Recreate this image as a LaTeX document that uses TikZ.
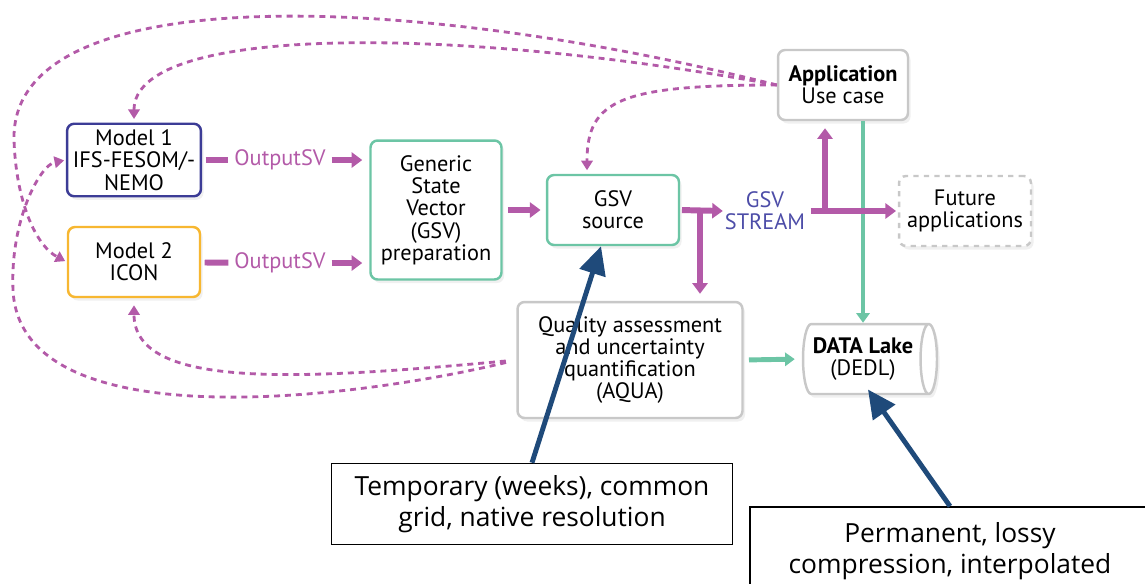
\documentclass[tikz,border=0pt]{standalone}
\usepackage{fontspec}
\setmainfont{PT Sans}
\newfontfamily\notefont{Open Sans}
\usetikzlibrary{arrows.meta,positioning,shapes,shapes.geometric,calc,shadows}
\definecolor{dtpurple}{HTML}{B35AA8}
\definecolor{dtgreen}{HTML}{6CC5A5}
\definecolor{dtblue}{HTML}{3C3C96}
\definecolor{dtorange}{HTML}{F7B731}
\definecolor{dtgrey}{HTML}{C8C8C8}
\definecolor{dtnavy}{HTML}{1F4A7A}
\definecolor{dtstream}{HTML}{4D4DA8}
\begin{document}
\begin{tikzpicture}[x=0.02cm,y=-0.02cm,
      every node/.style={font=\fontsize{12.7}{12.7}\selectfont},
      box/.style={draw,rounded corners=4pt,line width=1.4pt,fill=white,align=center,minimum width=2.64cm,minimum height=1.4cm,
        drop shadow={opacity=0.12,shadow xshift=1.5pt,shadow yshift=-2pt}},
      lake/.style={cylinder,shape border rotate=0,aspect=0.3,draw=dtgrey,line width=1.4pt,fill=white,align=center,minimum width=1.4cm,minimum height=2.68cm,
        drop shadow={opacity=0.12,shadow xshift=1.5pt,shadow yshift=-2pt}},
      flow/.style={line width=3.4pt,dtpurple,-{Triangle[length=6pt,width=8.5pt]}},
      feed/.style={line width=2.8pt,dtgreen,-{Triangle[length=5.5pt,width=7.5pt]}},
      loop/.style={line width=1.6pt,dtpurple,dash pattern=on 3.4pt off 2.8pt,-{Triangle[length=5.5pt,width=6.5pt]}},
      note/.style={draw,line width=0.9pt,fill=white,align=center,font=\notefont\fontsize{15}{17.5}\selectfont,minimum width=8.02cm,minimum height=1.62cm},
      ptr/.style={line width=2.8pt,dtnavy,-{Triangle[length=16pt,width=15pt]}}]
    \useasboundingbox (0,0) rectangle (1145,583);
    % Boxes
    \node[box,draw=dtblue] (m1) at (134,160) {Model 1\\IFS-FESOM/-\\NEMO};
    \node[box,draw=dtorange] (m2) at (134,262) {Model 2\\ICON};
    \node[box,draw=dtgreen,minimum width=2.62cm,minimum height=2.78cm] (gsv) at (436,210) {Generic\\State\\Vector\\(GSV)\\preparation};
    \node[box,draw=dtgreen] (src) at (613,210) {GSV\\source};
    \node[box,draw=dtgrey,minimum width=2.6cm] (app) at (843,85) {\textbf{Application}\\Use case};
    \node[box,draw=dtgrey,dashed] (fut) at (965,211) {Future\\applications};
    \node[box,draw=dtgrey,minimum width=4.5cm,minimum height=2.32cm] (aqua) at (630,360) {Quality assessment\\and uncertainty\\quantification\\(AQUA)};
    \node[lake] (lake) at (863,359) {\textbf{DATA Lake}\\(DEDL)};
    % Labels on the flow
    \node[text=dtpurple] (out1) at (280,160) {OutputSV};
    \node[text=dtpurple] (out2) at (280,263) {OutputSV};
    \node[text=dtstream,align=center,inner sep=1pt] (strm) at (765,211) {GSV\\STREAM};
    \coordinate (split) at (700,210);
    \coordinate (fork) at (825,210);
    % Data flow
    \draw[feed] (app.south -| lake.north) -- (lake.north);
    \draw[feed,shorten <=3pt,shorten >=4pt] (aqua.east) -- (lake.west);
    \foreach \a/\b in {m1/out1,m2/out2}{\draw[flow,-,shorten <=2pt] (\a) -- (\b);}
    \foreach \a in {out1,out2}{\draw[flow,shorten >=4pt] (\a) -- (\a -| gsv.west);}
    \draw[flow,shorten <=3pt,shorten >=3pt] (gsv.east |- src) -- (src.west);
    \draw[flow,shorten <=1pt] (src.east) -- (strm.west);
    \draw[flow,shorten >=4pt] (split) -- (split |- aqua.north);
    \draw[flow,shorten <=2pt,shorten >=1pt] (strm.east) -- (fut.west);
    \draw[flow,shorten >=4pt] (fork) -- (fork |- app.south);
    % Feedback loops
    \draw[loop,shorten >=2pt] (app.west) .. controls (450,25) and (134,25) .. (m1.north);
    \draw[loop,shorten >=1pt] (app.west) .. controls (400,-10) and (10,-20) .. (14,140) .. controls (16,200) and (35,245) .. (m2.west);
    \draw[loop,shorten >=2pt] (app.west) .. controls (620,85) and (587,100) .. ([xshift=-0.52cm]src.north);
    \draw[loop,shorten <=6pt,shorten >=4pt] (aqua.west) .. controls (300,380) and (134,390) .. (m2.south);
    \draw[loop,shorten <=6pt,shorten >=1pt] (aqua.west) .. controls (350,400) and (20,440) .. (13,290) .. controls (10,220) and (40,165) .. (m1.west);
    % Storage notes
    \node[note] (tmp) at (532,504) {Temporary (weeks), common\\grid, native resolution};
    \node[note,minimum width=8cm,minimum height=1.76cm] (perm) at (950,551) {Permanent, lossy\\compression, interpolated};
    \draw[ptr] (tmp.north) -- ([xshift=-0.24cm]src.south);
    \draw[ptr,shorten >=-4pt] (perm.north) -- ([xshift=0.18cm]lake.south);
  \end{tikzpicture}
\end{document}
